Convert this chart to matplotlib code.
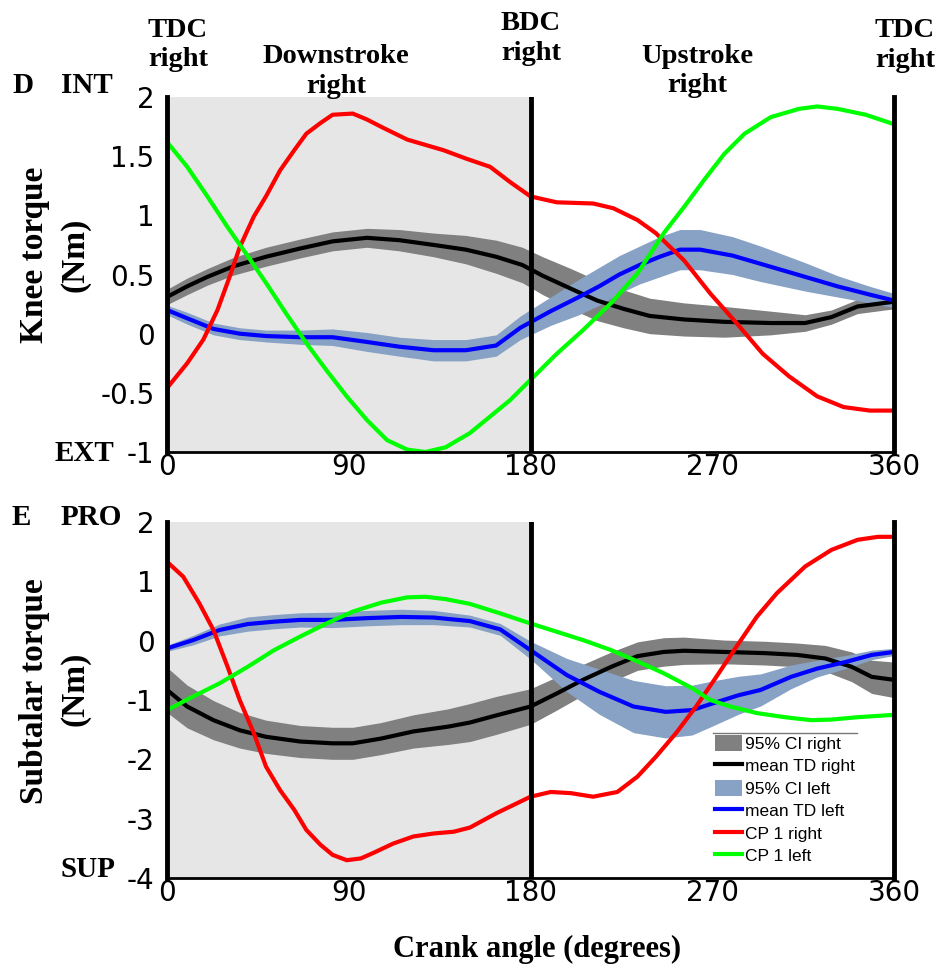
import numpy as np
import matplotlib
matplotlib.use("Agg")
import matplotlib.pyplot as plt
from matplotlib.patches import Patch
from matplotlib.lines import Line2D

# ---------------- data: knee torque (panel D) ----------------
knee_td_right_deg = [0, 10, 20, 33, 49, 66, 82, 99, 115, 132, 148, 163, 176, 186, 200, 213, 226, 239, 256, 276, 299, 316, 329, 342, 360]
knee_td_right_mean = [0.31, 0.40, 0.48, 0.57, 0.65, 0.72, 0.78, 0.81, 0.79, 0.75, 0.71, 0.65, 0.58, 0.49, 0.38, 0.28, 0.21, 0.15, 0.12, 0.10, 0.09, 0.09, 0.14, 0.23, 0.27]
knee_td_right_ci = [0.065, 0.07, 0.07, 0.075, 0.08, 0.08, 0.08, 0.08, 0.09, 0.10, 0.12, 0.14, 0.15, 0.16, 0.17, 0.17, 0.16, 0.15, 0.14, 0.13, 0.10, 0.07, 0.06, 0.06, 0.06]

knee_td_left_deg = [0, 10, 23, 36, 49, 66, 82, 99, 115, 132, 148, 163, 175, 190, 204, 214, 224, 234, 244, 254, 264, 280, 294, 316, 332, 348, 360]
knee_td_left_mean = [0.20, 0.13, 0.04, 0.0, -0.02, -0.03, -0.03, -0.07, -0.11, -0.14, -0.14, -0.10, 0.05, 0.19, 0.31, 0.40, 0.50, 0.58, 0.65, 0.71, 0.71, 0.66, 0.59, 0.48, 0.40, 0.33, 0.28]
knee_td_left_ci = [0.04, 0.05, 0.05, 0.05, 0.05, 0.06, 0.07, 0.08, 0.08, 0.09, 0.09, 0.09, 0.10, 0.12, 0.15, 0.16, 0.16, 0.16, 0.17, 0.17, 0.17, 0.16, 0.15, 0.12, 0.09, 0.07, 0.06]

knee_cp_right_deg = [0, 10, 18, 25, 31, 36, 43, 49, 56, 63, 69, 76, 82, 92, 99, 107, 119, 125, 137, 148, 160, 170, 180, 193, 211, 221, 233, 242, 256, 269, 282, 295, 308, 322, 335, 348, 360]
knee_cp_right = [-0.46, -0.25, -0.05, 0.20, 0.48, 0.73, 0.99, 1.16, 1.38, 1.55, 1.69, 1.78, 1.85, 1.86, 1.81, 1.74, 1.64, 1.61, 1.55, 1.48, 1.41, 1.28, 1.16, 1.11, 1.10, 1.06, 0.96, 0.85, 0.62, 0.34, 0.09, -0.17, -0.36, -0.53, -0.62, -0.65, -0.65]

knee_cp_left_deg = [0, 10, 20, 30, 39, 49, 59, 69, 79, 89, 99, 109, 119, 128, 138, 150, 160, 170, 180, 193, 206, 220, 233, 246, 256, 266, 276, 286, 299, 313, 322, 332, 346, 360]
knee_cp_left = [1.62, 1.41, 1.16, 0.90, 0.68, 0.43, 0.17, -0.08, -0.31, -0.53, -0.73, -0.90, -0.98, -1.0, -0.96, -0.84, -0.70, -0.56, -0.39, -0.17, 0.03, 0.26, 0.51, 0.85, 1.07, 1.30, 1.52, 1.69, 1.83, 1.90, 1.92, 1.90, 1.85, 1.77]

# ---------------- data: subtalar torque (panel E) ----------------
sub_td_right_deg = [0, 10, 23, 36, 49, 66, 82, 92, 106, 122, 139, 150, 163, 180, 193, 206, 220, 233, 246, 256, 276, 296, 312, 326, 339, 349, 360]
sub_td_right_mean = [-0.83, -1.11, -1.34, -1.51, -1.62, -1.70, -1.73, -1.73, -1.65, -1.53, -1.45, -1.38, -1.26, -1.11, -0.89, -0.66, -0.44, -0.26, -0.19, -0.17, -0.19, -0.21, -0.24, -0.30, -0.44, -0.61, -0.66]
sub_td_right_ci = [0.38, 0.36, 0.33, 0.30, 0.28, 0.27, 0.27, 0.27, 0.27, 0.28, 0.30, 0.32, 0.32, 0.30, 0.28, 0.26, 0.25, 0.24, 0.24, 0.23, 0.20, 0.20, 0.20, 0.22, 0.25, 0.28, 0.30]

sub_td_left_deg = [0, 13, 26, 40, 53, 66, 82, 99, 116, 132, 150, 165, 180, 198, 214, 231, 247, 260, 270, 283, 294, 309, 322, 336, 349, 360]
sub_td_left_mean = [-0.13, 0.01, 0.18, 0.28, 0.32, 0.35, 0.35, 0.38, 0.40, 0.39, 0.33, 0.19, -0.16, -0.58, -0.86, -1.11, -1.20, -1.17, -1.06, -0.92, -0.83, -0.61, -0.47, -0.36, -0.24, -0.19]
sub_td_left_ci = [0.05, 0.08, 0.10, 0.12, 0.12, 0.12, 0.13, 0.13, 0.13, 0.12, 0.10, 0.10, 0.15, 0.28, 0.38, 0.44, 0.44, 0.42, 0.38, 0.32, 0.27, 0.20, 0.14, 0.11, 0.08, 0.06]

sub_cp_right_deg = [0, 8, 16, 23, 30, 36, 43, 49, 56, 63, 69, 76, 82, 89, 96, 102, 112, 122, 132, 142, 150, 163, 180, 190, 200, 211, 223, 233, 242, 252, 262, 272, 282, 292, 302, 316, 329, 342, 352, 360]
sub_cp_right = [1.33, 1.08, 0.63, 0.18, -0.44, -1.0, -1.56, -2.12, -2.52, -2.85, -3.19, -3.44, -3.61, -3.70, -3.67, -3.58, -3.42, -3.30, -3.25, -3.22, -3.15, -2.91, -2.63, -2.55, -2.57, -2.63, -2.55, -2.29, -1.96, -1.56, -1.11, -0.61, -0.10, 0.40, 0.80, 1.25, 1.53, 1.70, 1.75, 1.75]

sub_cp_left_deg = [0, 13, 26, 40, 53, 66, 79, 92, 106, 119, 128, 138, 150, 165, 180, 193, 206, 220, 233, 246, 260, 269, 279, 292, 306, 319, 329, 342, 360]
sub_cp_left = [-1.17, -0.94, -0.72, -0.44, -0.16, 0.07, 0.29, 0.49, 0.64, 0.73, 0.74, 0.70, 0.62, 0.46, 0.29, 0.15, 0.01, -0.16, -0.35, -0.55, -0.80, -1.0, -1.11, -1.22, -1.29, -1.34, -1.33, -1.29, -1.25]

x_ticks = [0, 90, 180, 270, 360]
x_ticklabels = ["0", "90", "180", "270", "360"]
knee_yticks = [-1, -0.5, 0, 0.5, 1, 1.5, 2]
knee_yticklabels = ["-1", "-0.5", "0", "0.5", "1", "1.5", "2"]
sub_yticks = [-4, -3, -2, -1, 0, 1, 2]
sub_yticklabels = ["-4", "-3", "-2", "-1", "0", "1", "2"]
legend_labels = ["95% CI right", "mean TD right", "95% CI left", "mean TD left", "CP 1 right", "CP 1 left"]

# ---------------- styling ----------------
W, H = 939, 966
C_GREY_BAND = "#808080"
C_BLUE_BAND = "#87a2c4"
C_SHADE = "#e6e6e6"
LW = 3.0
SERIF = "Liberation Serif"
TICKFONT = "DejaVu Sans"

fig = plt.figure(figsize=(W / 100, H / 100), dpi=100)


def fx(px):
    return px / W


def fy(py):
    return 1 - py / H


def make_axes(top_px, bot_px):
    return fig.add_axes([fx(167), fy(bot_px), fx(894) - fx(167), fy(top_px) - fy(bot_px)])


def draw_panel(ax, ylim, yticks, yticklabels, td_r, td_l, cp_r, cp_l):
    ax.set_xlim(0, 360)
    ax.set_ylim(*ylim)
    ax.axvspan(0, 180, color=C_SHADE, zorder=0, lw=0)
    for (deg, mean, ci, bcol) in [(td_r[0], td_r[1], td_r[2], C_GREY_BAND),
                                   (td_l[0], td_l[1], td_l[2], C_BLUE_BAND)]:
        deg = np.array(deg)
        mean = np.array(mean)
        ci = np.array(ci)
        ax.fill_between(deg, mean - ci, mean + ci, color=bcol, lw=0, zorder=1)
    ax.plot(td_r[0], td_r[1], color="black", lw=LW, zorder=3)
    ax.plot(td_l[0], td_l[1], color="#0000ff", lw=LW, zorder=3)
    ax.plot(cp_r[0], cp_r[1], color="#ff0000", lw=LW, zorder=4)
    ax.plot(cp_l[0], cp_l[1], color="#00ff00", lw=LW, zorder=4)
    ax.axvline(180, color="black", lw=3.5, zorder=5)
    ax.spines["top"].set_visible(False)
    ax.spines["left"].set_linewidth(3.5)
    ax.spines["right"].set_linewidth(3.5)
    ax.spines["bottom"].set_linewidth(2)
    for s in ax.spines.values():
        s.set_zorder(6)
    ax.set_xticks(x_ticks)
    ax.set_xticklabels(x_ticklabels, fontsize=20, family=TICKFONT)
    ax.set_yticks(yticks)
    ax.set_yticklabels(yticklabels, fontsize=20, family=TICKFONT)
    ax.tick_params(axis="both", length=0)
    ax.tick_params(axis="y", pad=9)
    ax.tick_params(axis="x", pad=1)
    ax.set_facecolor("white")


ax1 = make_axes(97, 452)
draw_panel(ax1, (-1, 2), knee_yticks, knee_yticklabels,
           (knee_td_right_deg, knee_td_right_mean, knee_td_right_ci),
           (knee_td_left_deg, knee_td_left_mean, knee_td_left_ci),
           (knee_cp_right_deg, knee_cp_right), (knee_cp_left_deg, knee_cp_left))

ax2 = make_axes(522, 878)
draw_panel(ax2, (-4, 2), sub_yticks, sub_yticklabels,
           (sub_td_right_deg, sub_td_right_mean, sub_td_right_ci),
           (sub_td_left_deg, sub_td_left_mean, sub_td_left_ci),
           (sub_cp_right_deg, sub_cp_right), (sub_cp_left_deg, sub_cp_left))

# legend
handles = [Patch(facecolor=C_GREY_BAND, edgecolor="none"),
           Line2D([], [], color="black", lw=LW),
           Patch(facecolor=C_BLUE_BAND, edgecolor="none"),
           Line2D([], [], color="#0000ff", lw=LW),
           Line2D([], [], color="#ff0000", lw=LW),
           Line2D([], [], color="#00ff00", lw=LW)]
leg = ax2.legend(handles, legend_labels, loc="upper left",
                 bbox_to_anchor=((713 - 167) / 727, (878 - 733) / 356),
                 frameon=False, borderpad=0.1, borderaxespad=0,
                 handlelength=1.55, handleheight=1.1, handletextpad=0.2,
                 labelspacing=0.3, prop={"family": "Liberation Sans", "size": 12.5})
leg.set_zorder(10)
ax2.plot([(713 - 167) / 727, (857 - 167) / 727], [(878 - 733) / 356] * 2,
         transform=ax2.transAxes, color="#777777", lw=1, zorder=10, clip_on=False)


def label(px, py, s, size=20.5, **kw):
    fig.text(fx(px), fy(py), s, ha="center", va="baseline", family=SERIF,
             fontweight="bold", fontsize=size, **kw)


label(178, 37, "TDC")
label(178, 66, "right")
label(336, 63, "Downstroke")
label(336, 93, "right")
label(531, 30, "BDC")
label(531, 60, "right")
label(697, 63, "Upstroke")
label(697, 92, "right")
label(905, 37, "TDC")
label(905, 67, "right")
label(23, 93, "D", size=21)
label(87, 93, "INT", size=21)
label(84, 461, "EXT", size=21)
label(21, 525, "E", size=21)
label(91, 525, "PRO", size=21)
label(88, 877, "SUP", size=21)

fig.text(fx(35), fy(255), "Knee torque", rotation=90, ha="center", va="center",
         family=SERIF, fontweight="bold", fontsize=24)
fig.text(fx(75), fy(255), "(Nm)", rotation=90, ha="center", va="center",
         family=SERIF, fontweight="bold", fontsize=24)
fig.text(fx(35), fy(691), "Subtalar torque", rotation=90, ha="center", va="center",
         family=SERIF, fontweight="bold", fontsize=24)
fig.text(fx(75), fy(689), "(Nm)", rotation=90, ha="center", va="center",
         family=SERIF, fontweight="bold", fontsize=24)
label(537, 957, "Crank angle (degrees)", size=22)

fig.savefig("out.png", dpi=100, facecolor="white")
